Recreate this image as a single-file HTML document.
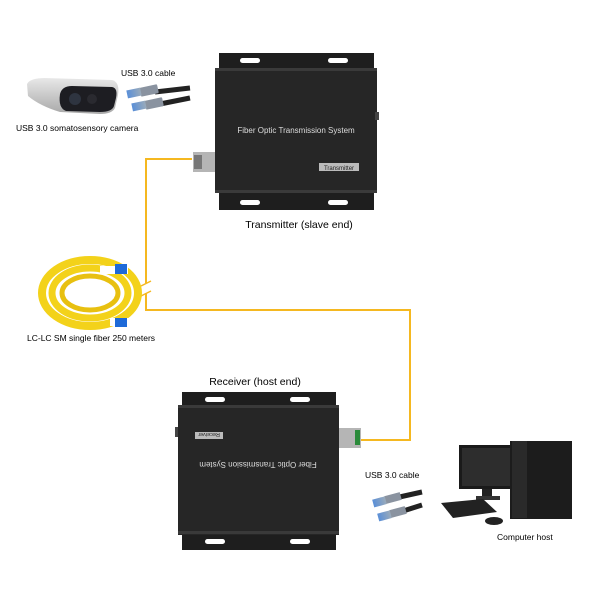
<!DOCTYPE html>
<html><head><meta charset="utf-8"><style>
body{margin:0;background:#fff}
svg{display:block}
text{font-family:"Liberation Sans",sans-serif}
</style></head><body>
<svg width="600" height="600" viewBox="0 0 600 600" xmlns="http://www.w3.org/2000/svg">
<defs>
<linearGradient id="cam" x1="0" y1="0" x2="0" y2="1"><stop offset="0" stop-color="#e8e8e8"/><stop offset="1" stop-color="#a8a8a8"/></linearGradient>
<linearGradient id="usb" x1="0" y1="0" x2="1" y2="0"><stop offset="0" stop-color="#5a8fd8"/><stop offset="1" stop-color="#9ab"/></linearGradient>
</defs>
<!-- fiber line -->
<g stroke="#f5b820" stroke-width="2" fill="none">
<polyline points="192,159 146,159 146,283"/>
<polyline points="146,293 146,310 410,310 410,440 354,440"/>
</g>
<line x1="141" y1="286" x2="151" y2="281" stroke="#f5b820" stroke-width="1.5"/>
<line x1="141" y1="296" x2="151" y2="291" stroke="#f5b820" stroke-width="1.5"/>

<!-- camera -->
<path d="M27,84 Q30,78 45,78 L112,80 Q120,82 118,95 L115,108 Q112,114 100,114 L60,112 Q40,106 28,96 Z" fill="url(#cam)"/>
<path d="M60,94 Q62,86 72,86 L112,87 Q118,88 116,98 L114,106 Q112,112 100,112 L66,111 Q58,108 60,94 Z" fill="#1d1d22"/>
<circle cx="75" cy="99" r="6" fill="#2e3440"/><circle cx="92" cy="99" r="5" fill="#2a2a30"/>
<text x="121" y="76" font-size="8.5">USB 3.0 cable</text>
<text x="16" y="131" font-size="8.5">USB 3.0 somatosensory camera</text>
<!-- usb cable top -->
<g>
<path d="M155,92 L190,88" stroke="#222" stroke-width="5"/>
<path d="M160,104 L190,98" stroke="#222" stroke-width="5"/>
<rect x="140" y="86" width="18" height="9" rx="1" fill="#8a93a0" transform="rotate(-12 149 90)"/>
<rect x="127" y="89" width="14" height="8" fill="url(#usb)" transform="rotate(-12 134 93)"/>
<rect x="145" y="99" width="18" height="9" rx="1" fill="#8a93a0" transform="rotate(-12 154 103)"/>
<rect x="132" y="102" width="14" height="8" fill="url(#usb)" transform="rotate(-12 139 106)"/>
</g>

<!-- transmitter -->
<rect x="219" y="53" width="155" height="157" fill="#1e1e1e"/>
<rect x="215" y="68" width="162" height="125" fill="#262626"/>
<rect x="215" y="68" width="162" height="3" fill="#3a3a3a"/>
<rect x="215" y="190" width="162" height="3" fill="#3a3a3a"/>
<rect x="240" y="58" width="20" height="5" rx="2.5" fill="#fff"/>
<rect x="328" y="58" width="20" height="5" rx="2.5" fill="#fff"/>
<rect x="240" y="200" width="20" height="5" rx="2.5" fill="#fff"/>
<rect x="328" y="200" width="20" height="5" rx="2.5" fill="#fff"/>
<text x="296" y="133" font-size="8" fill="#ddd" text-anchor="middle">Fiber Optic Transmission System</text>
<rect x="319" y="163" width="40" height="8" fill="#bbb"/>
<text x="339" y="170" font-size="6" fill="#222" text-anchor="middle">Transmitter</text>
<rect x="193" y="152" width="22" height="20" fill="#b5b5b5"/>
<rect x="194" y="155" width="8" height="14" fill="#777"/>
<rect x="375" y="112" width="4" height="8" fill="#444"/>
<text x="299" y="228" font-size="10.5" text-anchor="middle">Transmitter (slave end)</text>

<!-- fiber coil -->
<g fill="none" stroke="#f3d21a">
<ellipse cx="90" cy="293" rx="48" ry="33" stroke-width="8"/>
<ellipse cx="90" cy="293" rx="38" ry="25" stroke-width="7"/>
<ellipse cx="90" cy="293" rx="28" ry="17" stroke-width="5" stroke="#e8c010"/>
</g>
<rect x="100" y="266" width="28" height="8" fill="#fff"/>
<rect x="115" y="264" width="12" height="10" fill="#1e6ad8"/>
<rect x="110" y="318" width="22" height="8" fill="#fff"/>
<rect x="115" y="318" width="12" height="9" fill="#1e6ad8"/>
<text x="27" y="341" font-size="8.5">LC-LC SM single fiber 250 meters</text>

<!-- receiver -->
<text x="255" y="385" font-size="10.5" text-anchor="middle">Receiver (host end)</text>
<rect x="182" y="392" width="154" height="158" fill="#1e1e1e"/>
<rect x="178" y="405" width="161" height="130" fill="#262626"/>
<rect x="178" y="405" width="161" height="3" fill="#3a3a3a"/>
<rect x="178" y="531" width="161" height="3" fill="#3a3a3a"/>
<rect x="205" y="397" width="20" height="5" rx="2.5" fill="#fff"/>
<rect x="290" y="397" width="20" height="5" rx="2.5" fill="#fff"/>
<rect x="205" y="539" width="20" height="5" rx="2.5" fill="#fff"/>
<rect x="290" y="539" width="20" height="5" rx="2.5" fill="#fff"/>
<rect x="195" y="432" width="28" height="7" fill="#bbb"/>
<text x="209" y="438" font-size="5.5" fill="#222" text-anchor="middle" transform="rotate(180 209 435.5)">Receiver</text>
<text x="258" y="468" font-size="8" fill="#ddd" text-anchor="middle" transform="rotate(180 258 465)">Fiber Optic Transmission System</text>
<rect x="339" y="428" width="22" height="20" fill="#b5b5b5"/>
<rect x="355" y="430" width="5" height="15" fill="#2a8a3a"/>
<rect x="175" y="427" width="3" height="10" fill="#444"/>
<text x="365" y="478" font-size="8.5">USB 3.0 cable</text>
<g>
<path d="M395,498 L422,492" stroke="#222" stroke-width="5"/>
<path d="M400,512 L422,505" stroke="#222" stroke-width="5"/>
<rect x="385" y="494" width="16" height="8" fill="#8a93a0" transform="rotate(-15 393 498)"/>
<rect x="373" y="498" width="13" height="8" fill="url(#usb)" transform="rotate(-15 379 502)"/>
<rect x="390" y="508" width="16" height="8" fill="#8a93a0" transform="rotate(-15 398 512)"/>
<rect x="378" y="512" width="13" height="8" fill="url(#usb)" transform="rotate(-15 384 516)"/>
</g>

<!-- computer -->
<rect x="459" y="445" width="54" height="44" fill="#1a1a1a"/>
<rect x="462" y="448" width="48" height="38" fill="#2d2d2d"/>
<rect x="482" y="489" width="10" height="7" fill="#222"/>
<rect x="476" y="496" width="24" height="4" fill="#333"/>
<rect x="510" y="441" width="62" height="78" fill="#1c1c1c"/>
<rect x="512" y="441" width="15" height="77" fill="#2a2a2a"/>
<polygon points="441,503 483,499 497,512 453,518" fill="#222"/>
<ellipse cx="494" cy="521" rx="9" ry="4" fill="#222"/>
<text x="497" y="540" font-size="8.5">Computer host</text>
</svg>
</body></html>
